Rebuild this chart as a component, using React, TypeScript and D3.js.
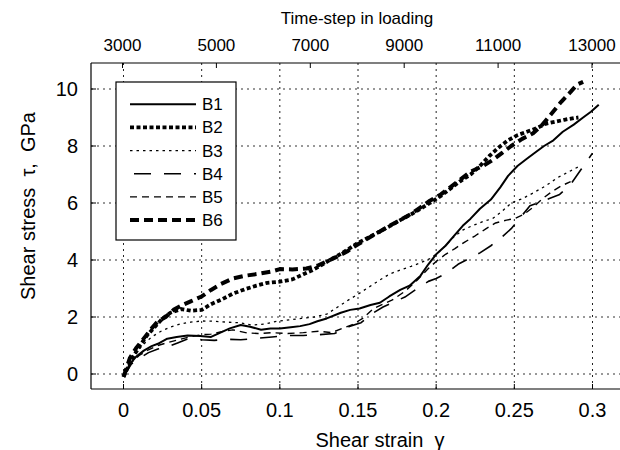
import React from "react";
import * as d3 from "d3";

const xTicks = [0, 0.05, 0.1, 0.15, 0.2, 0.25, 0.3];
const xTickLabels = ["0", "0.05", "0.1", "0.15", "0.2", "0.25", "0.3"];
const yTicks = [0, 2, 4, 6, 8, 10];
const topTicks = [3000, 5000, 7000, 9000, 11000, 13000];

const b1Strain = [0, 0.004, 0.008, 0.013, 0.018, 0.022, 0.028, 0.034, 0.041, 0.049, 0.056, 0.062, 0.068, 0.075, 0.081, 0.088, 0.094, 0.1, 0.107, 0.113, 0.119, 0.124, 0.13, 0.139, 0.145, 0.151, 0.158, 0.164, 0.17, 0.177, 0.183, 0.19, 0.195, 0.2, 0.206, 0.211, 0.217, 0.222, 0.228, 0.235, 0.241, 0.246, 0.252, 0.258, 0.264, 0.269, 0.275, 0.281, 0.288, 0.294, 0.299, 0.304];
const b1Stress = [-0.1, 0.35, 0.6, 0.82, 0.98, 1.06, 1.24, 1.3, 1.35, 1.33, 1.3, 1.45, 1.6, 1.72, 1.66, 1.55, 1.6, 1.6, 1.64, 1.68, 1.75, 1.85, 1.95, 2.15, 2.25, 2.3, 2.42, 2.5, 2.72, 2.95, 3.1, 3.45, 3.85, 4.2, 4.5, 4.82, 5.2, 5.45, 5.8, 6.12, 6.55, 6.95, 7.3, 7.55, 7.8, 8.0, 8.2, 8.5, 8.75, 9.0, 9.2, 9.45];

const b2Strain = [0, 0.005, 0.01, 0.015, 0.02, 0.025, 0.03, 0.037, 0.043, 0.05, 0.056, 0.063, 0.07, 0.078, 0.085, 0.092, 0.1, 0.108, 0.115, 0.12, 0.126, 0.131, 0.137, 0.143, 0.15, 0.157, 0.164, 0.17, 0.177, 0.184, 0.19, 0.196, 0.203, 0.209, 0.215, 0.222, 0.228, 0.234, 0.24, 0.246, 0.252, 0.258, 0.264, 0.27, 0.276, 0.282, 0.288, 0.291];
const b2Stress = [-0.1, 0.5, 0.95, 1.35, 1.65, 1.95, 2.15, 2.28, 2.22, 2.25, 2.45, 2.62, 2.82, 2.98, 3.1, 3.2, 3.24, 3.32, 3.5, 3.62, 3.8, 3.97, 4.15, 4.35, 4.6, 4.8, 5.0, 5.18, 5.4, 5.6, 5.8, 6.0, 6.25, 6.5, 6.75, 7.0, 7.3, 7.65, 7.95, 8.2, 8.38, 8.5, 8.62, 8.78, 8.85, 8.92, 8.98, 9.0];

const b3Strain = [0, 0.004, 0.008, 0.013, 0.018, 0.024, 0.03, 0.036, 0.043, 0.05, 0.058, 0.066, 0.074, 0.082, 0.09, 0.098, 0.106, 0.114, 0.122, 0.13, 0.137, 0.144, 0.15, 0.157, 0.164, 0.17, 0.177, 0.184, 0.19, 0.196, 0.2, 0.205, 0.211, 0.217, 0.223, 0.23, 0.236, 0.242, 0.248, 0.255, 0.262, 0.27, 0.278, 0.285, 0.292];
const b3Stress = [-0.1, 0.4, 0.75, 1.05, 1.3, 1.5, 1.65, 1.75, 1.82, 1.86, 1.85, 1.82, 1.8, 1.72, 1.75, 1.85, 1.9, 1.95, 2.0, 2.1, 2.35, 2.6, 2.8, 3.05, 3.3, 3.5, 3.65, 3.78, 3.9, 4.05, 4.2, 4.45, 4.8, 5.05, 5.2, 5.35, 5.45, 5.7, 6.0, 6.15, 6.35, 6.6, 6.9, 7.1, 7.3];

const b4Strain = [0, 0.005, 0.01, 0.016, 0.022, 0.028, 0.035, 0.042, 0.05, 0.058, 0.066, 0.075, 0.085, 0.095, 0.105, 0.115, 0.125, 0.135, 0.145, 0.152, 0.16, 0.166, 0.172, 0.18, 0.188, 0.195, 0.2, 0.207, 0.214, 0.221, 0.228, 0.235, 0.242, 0.248, 0.254, 0.26, 0.266, 0.272, 0.279, 0.286, 0.293, 0.3];
const b4Stress = [-0.1, 0.35, 0.55, 0.75, 0.88, 0.95, 1.1, 1.25, 1.2, 1.18, 1.22, 1.2, 1.25, 1.3, 1.35, 1.35, 1.38, 1.42, 1.68, 1.8, 2.15, 2.35, 2.5, 2.7, 3.0, 3.25, 3.35, 3.55, 3.85, 4.05, 4.25, 4.5, 4.8, 5.1, 5.5, 5.9, 6.02, 6.15, 6.3, 6.65, 7.2, 7.75];

const b5Strain = [0, 0.005, 0.01, 0.016, 0.022, 0.028, 0.035, 0.042, 0.05, 0.056, 0.062, 0.07, 0.078, 0.086, 0.095, 0.105, 0.115, 0.125, 0.133, 0.14, 0.146, 0.153, 0.16, 0.166, 0.172, 0.18, 0.188, 0.195, 0.2, 0.206, 0.212, 0.218, 0.225, 0.232, 0.238, 0.245, 0.25, 0.256, 0.262, 0.268, 0.274, 0.28, 0.286];
const b5Stress = [-0.1, 0.4, 0.65, 0.85, 1.0, 1.1, 1.2, 1.3, 1.38, 1.4, 1.48, 1.55, 1.45, 1.42, 1.45, 1.42, 1.45, 1.5, 1.45, 1.6, 1.72, 1.95, 2.3, 2.45, 2.6, 2.9, 3.3, 3.7, 3.95, 4.2, 4.4, 4.62, 4.85, 5.1, 5.3, 5.4, 5.45, 5.6, 5.85, 6.15, 6.4, 6.6, 6.75];

const b6Strain = [0, 0.004, 0.008, 0.013, 0.018, 0.022, 0.027, 0.032, 0.037, 0.043, 0.05, 0.056, 0.062, 0.07, 0.078, 0.087, 0.095, 0.1, 0.108, 0.117, 0.124, 0.13, 0.136, 0.143, 0.15, 0.157, 0.164, 0.17, 0.177, 0.184, 0.19, 0.196, 0.203, 0.209, 0.215, 0.222, 0.23, 0.236, 0.242, 0.248, 0.255, 0.262, 0.268, 0.274, 0.28, 0.286, 0.29, 0.294];
const b6Stress = [-0.1, 0.55, 0.9, 1.25, 1.6, 1.85, 2.0, 2.25, 2.4, 2.55, 2.72, 2.95, 3.15, 3.35, 3.45, 3.52, 3.6, 3.68, 3.67, 3.7, 3.8, 3.95, 4.1, 4.3, 4.55, 4.78, 5.0, 5.2, 5.4, 5.62, 5.85, 6.08, 6.3, 6.55, 6.8, 7.1, 7.3, 7.5, 7.75, 8.0, 8.25, 8.45, 8.75, 9.15, 9.55, 9.9, 10.15, 10.25];

const seriesNames = ["B1", "B2", "B3", "B4", "B5", "B6"];
const seriesStrain = [b1Strain, b2Strain, b3Strain, b4Strain, b5Strain, b6Strain];
const seriesStress = [b1Stress, b2Stress, b3Stress, b4Stress, b5Stress, b6Stress];

const styles = [
  { w: 2, dash: "none" },
  { w: 3.8, dash: "4,2.5" },
  { w: 1.3, dash: "2.5,4" },
  { w: 1.6, dash: "17,13" },
  { w: 1.4, dash: "7,5" },
  { w: 4, dash: "9,5" },
];

const FONT = "'Liberation Sans', Arial, sans-serif";

export default function App() {
  const W = 620, H = 450;
  const left = 91, right = 640, top = 63, bottom = 389;
  const x = d3.scaleLinear().domain([0, 0.3]).range([123.5, 592.5]);
  const y = d3.scaleLinear().domain([0, 10]).range([374, 89]);
  const xt = d3.scaleLinear().domain([3000, 13000]).range([122.5, 592]);

  const line = d3
    .line<[number, number]>()
    .x((d) => x(d[0]))
    .y((d) => y(d[1]));

  const legendX = 116, legendY = 82, legendW = 120, legendH = 158;

  return (
    <svg width={W} height={H} style={{ position: "absolute", left: 0, top: 0, background: "#fff" }} fontFamily={FONT}>
      <rect x={0} y={0} width={W} height={H} fill="#fff" />
      {/* grid */}
      {xTicks.map((t) => (
        <line key={"gx" + t} x1={x(t)} x2={x(t)} y1={top} y2={bottom} stroke="#222" strokeWidth={1} strokeDasharray="2,4" />
      ))}
      {yTicks.map((t) => (
        <line key={"gy" + t} x1={left} x2={right} y1={y(t)} y2={y(t)} stroke="#333" strokeWidth={1} strokeDasharray="2,4" />
      ))}
      {/* data */}
      {seriesNames.map((n, i) => {
        const pts = seriesStrain[i].map((s, j) => [s, seriesStress[i][j]] as [number, number]);
        return (
          <path key={n} d={line(pts) || ""} fill="none" stroke="#000" strokeWidth={styles[i].w}
            strokeDasharray={styles[i].dash} strokeLinejoin="round" />
        );
      })}
      {/* axes box */}
      <line x1={left} x2={right} y1={bottom} y2={bottom} stroke="#000" strokeWidth={1.2} />
      <line x1={left} x2={right} y1={top} y2={top} stroke="#000" strokeWidth={1.2} />
      <line x1={left} x2={left} y1={top} y2={bottom} stroke="#000" strokeWidth={1.2} />
      {xTicks.map((t, i) => (
        <g key={"xt" + t}>
          <line x1={x(t)} x2={x(t)} y1={bottom} y2={bottom - 5} stroke="#000" />
          <text x={x(t)} y={417} textAnchor="middle" fontSize={20}>{xTickLabels[i]}</text>
        </g>
      ))}
      {yTicks.map((t) => (
        <g key={"yt" + t}>
          <line x1={left} x2={left + 5} y1={y(t)} y2={y(t)} stroke="#000" />
          <text x={78} y={y(t) + 7} textAnchor="end" fontSize={20}>{t}</text>
        </g>
      ))}
      {topTicks.map((t) => (
        <g key={"tt" + t}>
          <line x1={xt(t)} x2={xt(t)} y1={top} y2={top + 5} stroke="#000" />
          <text x={xt(t)} y={51} textAnchor="middle" fontSize={17}>{t}</text>
        </g>
      ))}
      {/* titles */}
      <text x={357} y={24} textAnchor="middle" fontSize={17}>Time-step in loading</text>
      <text x={380} y={447} textAnchor="middle" fontSize={20}>Shear strain {"\u00A0"}γ</text>
      <text transform="translate(35,206) rotate(-90)" textAnchor="middle" fontSize={20}>
        Shear stress {"\u00A0"}τ, {"\u00A0"}GPa
      </text>
      {/* legend */}
      <rect x={legendX} y={legendY} width={legendW} height={legendH} fill="#fff" stroke="#000" strokeWidth={1.2} />
      {seriesNames.map((n, i) => {
        const ly = 104.3 + i * 23.15;
        return (
          <g key={"lg" + n}>
            <line x1={130} x2={196} y1={ly} y2={ly} stroke="#000" strokeWidth={styles[i].w}
              strokeDasharray={styles[i].dash} strokeDashoffset={i === 3 ? -4 : 0} />
            <text x={202} y={ly + 6} fontSize={17}>{n}</text>
          </g>
        );
      })}
    </svg>
  );
}
